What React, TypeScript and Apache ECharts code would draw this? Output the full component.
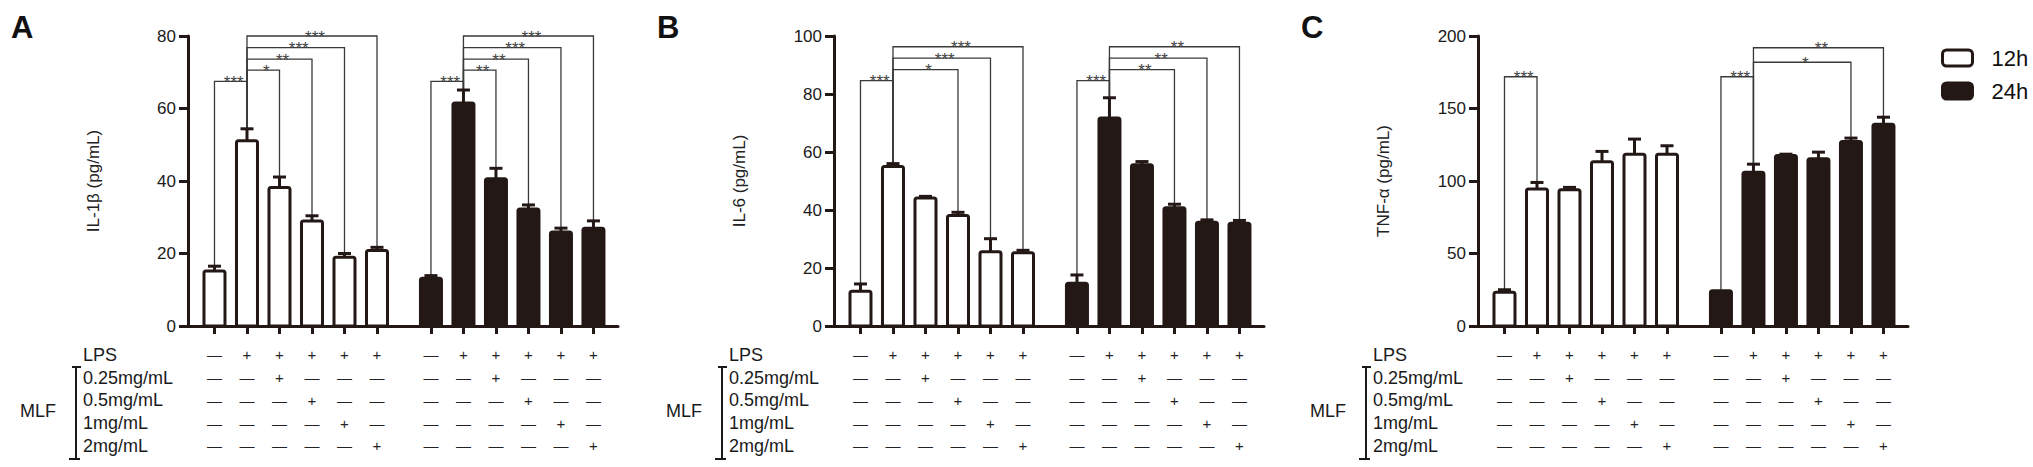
import React, { useEffect, useRef } from 'react';
import * as echarts from 'echarts';

// ---------------- data ----------------
const panelLetters = ['A', 'B', 'C'];
const yTitles = ['IL-1β (pg/mL)', 'IL-6 (pg/mL)', 'TNF-α (pg/mL)'];
const yMaxes = [80, 100, 200];
const yIntervals = [20, 20, 50];
const groupNames = ['12h', '24h'];

const rowLabels = ['LPS', '0.25mg/mL', '0.5mg/mL', '1mg/mL', '2mg/mL'];
const lpsRow = [0, 1, 1, 1, 1, 1];
const mlf025Row = [0, 0, 1, 0, 0, 0];
const mlf05Row = [0, 0, 0, 1, 0, 0];
const mlf1Row = [0, 0, 0, 0, 1, 0];
const mlf2Row = [0, 0, 0, 0, 0, 1];
const treatmentRows = [lpsRow, mlf025Row, mlf05Row, mlf1Row, mlf2Row];

// IL-1β
const il1b12h = [15.2, 51.1, 38.2, 29.0, 19.0, 20.8];
const il1b12hErr = [1.3, 3.3, 2.9, 1.4, 1.0, 0.9];
const il1b24h = [13.2, 61.5, 40.6, 32.3, 25.9, 27.0];
const il1b24hErr = [0.7, 3.6, 2.9, 1.1, 1.1, 2.0];
// IL-6
const il6_12h = [12.0, 55.0, 44.1, 38.1, 25.6, 25.3];
const il6_12hErr = [2.5, 1.0, 0.6, 1.1, 4.5, 0.8];
const il6_24h = [14.7, 71.7, 55.6, 40.8, 35.8, 35.4];
const il6_24hErr = [2.9, 7.0, 1.1, 1.2, 0.8, 1.0];
// TNF-α
const tnf12h = [23.3, 94.4, 94.0, 113.3, 118.5, 118.5];
const tnf12hErr = [1.7, 4.6, 1.6, 7.1, 10.4, 5.8];
const tnf24h = [24.3, 106.1, 117.6, 115.3, 127.3, 139.2];
const tnf24hErr = [0, 5.5, 0.9, 4.6, 2.3, 4.8];

// significance: [fromIndex, toIndex, bracketLevel, label]
const sigA12h: [number, number, number, string][] = [[0, 1, 67.5, '***'], [1, 2, 70.6, '*'], [1, 3, 73.6, '**'], [1, 4, 76.8, '***'], [1, 5, 80, '***']];
const sigA24h: [number, number, number, string][] = [[0, 1, 67.5, '***'], [1, 2, 70.6, '**'], [1, 3, 73.6, '**'], [1, 4, 76.8, '***'], [1, 5, 80, '***']];
const sigB12h: [number, number, number, string][] = [[0, 1, 84.6, '***'], [1, 3, 88.4, '*'], [1, 4, 92.4, '***'], [1, 5, 96.3, '***']];
const sigB24h: [number, number, number, string][] = [[0, 1, 84.6, '***'], [1, 3, 88.4, '**'], [1, 4, 92.4, '**'], [1, 5, 96.3, '**']];
const sigC12h: [number, number, number, string][] = [[0, 1, 171.9, '***']];
const sigC24h: [number, number, number, string][] = [[0, 1, 171.9, '***'], [1, 4, 181.9, '*'], [1, 5, 191.9, '**']];

const panelValues = [[il1b12h, il1b24h], [il6_12h, il6_24h], [tnf12h, tnf24h]];
const panelErrors = [[il1b12hErr, il1b24hErr], [il6_12hErr, il6_24hErr], [tnf12hErr, tnf24hErr]];
const panelSig = [[sigA12h, sigA24h], [sigB12h, sigB24h], [sigC12h, sigC24h]];

// ---------------- layout ----------------
const DARK = '#231815';
const FONT = 'Arial, "Liberation Sans", Helvetica, sans-serif';
const AXIS_LEFT = [188, 834, 1478];
const GRID_TOP = 36;
const GRID_H = 290;
const GRID_W = 430;
const FIRST = 0.815;
const GROUP_STEP = 6.66;
const X_MAX = 13.23;
const BAR_W = 24;
const ROW_H = 22.7;

const xPos = (g: number, i: number) => FIRST + g * GROUP_STEP + i;
const tickValues: number[] = [];
for (let g = 0; g < 2; g++) for (let i = 0; i < 6; i++) tickValues.push(xPos(g, i));

function tableLabel(v: number) {
  const k = tickValues.findIndex((t) => Math.abs(t - v) < 1e-4);
  if (k < 0) return '';
  const i = k % 6;
  return treatmentRows.map((r) => (r[i] ? '+' : '—')).join('\n');
}

function barRender(g: number) {
  return (params: any, api: any) => {
    const x = api.value(0);
    const v = api.value(1);
    const e = api.value(2);
    const top = api.coord([x, v]);
    const base = api.coord([x, 0]);
    const cap = api.coord([x, v + e]);
    const w = BAR_W - 3;
    const children: any[] = [];
    if (e > 0) {
      children.push({ type: 'line', shape: { x1: top[0], y1: top[1], x2: top[0], y2: cap[1] }, style: { stroke: DARK, lineWidth: 3 } });
      children.push({ type: 'line', shape: { x1: top[0] - 6.5, y1: cap[1], x2: top[0] + 6.5, y2: cap[1] }, style: { stroke: DARK, lineWidth: 3 } });
    }
    children.push({
      type: 'rect',
      shape: { x: top[0] - w / 2, y: top[1], width: w, height: base[1] - top[1], r: [2, 2, 0, 0] },
      style: { fill: g === 0 ? '#ffffff' : DARK, stroke: DARK, lineWidth: 3 },
    });
    return { type: 'group', children };
  };
}

function sigRender(labels: string[]) {
  return (params: any, api: any) => {
    const xa = api.value(0);
    const xb = api.value(1);
    const L = api.value(2);
    const ea = api.value(3);
    const eb = api.value(4);
    const pA = api.coord([xa, L]);
    const pB = api.coord([xb, L]);
    const pA0 = api.coord([xa, ea]);
    const pB0 = api.coord([xb, eb]);
    return {
      type: 'group',
      children: [
        { type: 'polyline', shape: { points: [pA0, pA, pB, pB0] }, style: { stroke: '#3a3a3a', lineWidth: 1.3, fill: 'none' } },
        {
          type: 'text',
          x: (pA[0] + pB[0]) / 2 + 3,
          y: pA[1] + 1,
          style: { text: labels[params.dataIndex], fill: '#444', fontSize: 17, fontFamily: FONT, align: 'center', verticalAlign: 'middle' },
        },
      ],
    };
  };
}

function buildOption() {
  const grid: any[] = [];
  const xAxis: any[] = [];
  const yAxis: any[] = [];
  const series: any[] = [];
  const graphic: any[] = [];

  for (let p = 0; p < 3; p++) {
    grid.push({ left: AXIS_LEFT[p], top: GRID_TOP, width: GRID_W, height: GRID_H });
    xAxis.push({
      type: 'value',
      gridIndex: p,
      min: 0,
      max: X_MAX,
      axisLine: { show: true, lineStyle: { color: DARK, width: 3 } },
      axisTick: { show: true, customValues: tickValues, length: 8, lineStyle: { color: DARK, width: 3 } },
      axisLabel: {
        show: true,
        customValues: tickValues,
        formatter: (v: number) => tableLabel(v),
        margin: 17.6,
        lineHeight: ROW_H,
        fontSize: 15,
        fontFamily: FONT,
        color: '#222',
      },
      splitLine: { show: false },
    });
    yAxis.push({
      type: 'value',
      gridIndex: p,
      min: 0,
      max: yMaxes[p],
      interval: yIntervals[p],
      name: yTitles[p],
      nameLocation: 'middle',
      nameGap: 86,
      nameRotate: 90,
      nameTextStyle: { fontSize: 17, fontFamily: FONT, color: '#222' },
      axisLine: { show: true, lineStyle: { color: DARK, width: 3 } },
      axisTick: { show: true, length: 9, lineStyle: { color: DARK, width: 3 } },
      axisLabel: { fontSize: 17, fontFamily: FONT, color: '#1a1a1a', margin: 12 },
      splitLine: { show: false },
    });

    for (let g = 0; g < 2; g++) {
      const vals = panelValues[p][g];
      const errs = panelErrors[p][g];
      const sig = panelSig[p][g];
      series.push({
        type: 'custom',
        xAxisIndex: p,
        yAxisIndex: p,
        z: 1,
        silent: true,
        data: sig.map(([a, b, level]) => [xPos(g, a), xPos(g, b), level, vals[a] + errs[a], vals[b] + errs[b]]),
        encode: { x: 0, y: 2 },
        renderItem: sigRender(sig.map((s) => s[3])),
      });
      series.push({
        type: 'custom',
        name: groupNames[g],
        xAxisIndex: p,
        yAxisIndex: p,
        z: 2,
        data: vals.map((v, i) => [xPos(g, i), v, errs[i]]),
        encode: { x: 0, y: 1 },
        itemStyle: g === 0 ? { color: '#ffffff', borderColor: DARK, borderWidth: 3 } : { color: DARK },
        renderItem: barRender(g),
      });
    }

    const L = AXIS_LEFT[p];
    graphic.push({ type: 'text', left: L - 177, top: 12, style: { text: panelLetters[p], fontSize: 31, fontWeight: 'bold', fontFamily: FONT, fill: '#111' } });
    rowLabels.forEach((t, r) => {
      graphic.push({
        type: 'text',
        x: L - 105,
        y: 355 + r * ROW_H,
        style: { text: t, fontSize: 18, fontFamily: FONT, fill: '#1a1a1a', align: 'left', verticalAlign: 'middle' },
      });
    });
    graphic.push({ type: 'text', x: L - 168, y: 411, style: { text: 'MLF', fontSize: 18, fontFamily: FONT, fill: '#1a1a1a', align: 'left', verticalAlign: 'middle' } });
    graphic.push({ type: 'line', shape: { x1: L - 112, y1: 367, x2: L - 112, y2: 459 }, style: { stroke: '#1a1a1a', lineWidth: 2 } });
    graphic.push({ type: 'line', shape: { x1: L - 116, y1: 367, x2: L - 107, y2: 367 }, style: { stroke: '#1a1a1a', lineWidth: 2 } });
    graphic.push({ type: 'line', shape: { x1: L - 119, y1: 459, x2: L - 108, y2: 459 }, style: { stroke: '#1a1a1a', lineWidth: 2 } });
  }

  return {
    animation: false,
    backgroundColor: '#ffffff',
    grid,
    xAxis,
    yAxis,
    series,
    graphic,
    legend: {
      orient: 'vertical',
      left: 1941,
      top: 47,
      itemWidth: 30,
      itemHeight: 16,
      itemGap: 11,
      icon: 'roundRect',
      selectedMode: false,
      padding: 0,
      textStyle: { fontSize: 22, fontFamily: FONT, color: '#111', padding: [0, 0, 0, 14] },
      data: [
        { name: '12h', itemStyle: { color: '#ffffff', borderColor: DARK, borderWidth: 3 } },
        { name: '24h', itemStyle: { color: DARK, borderColor: DARK, borderWidth: 3 } },
      ],
    },
  };
}

export default function App() {
  const ref = useRef<HTMLDivElement>(null);
  useEffect(() => {
    document.body.style.margin = '0';
    if (!ref.current) return;
    const chart = echarts.init(ref.current, undefined, { renderer: 'svg' });
    chart.setOption(buildOption() as any);
    return () => chart.dispose();
  }, []);
  return <div ref={ref} style={{ width: 2033, height: 467 }} />;
}
